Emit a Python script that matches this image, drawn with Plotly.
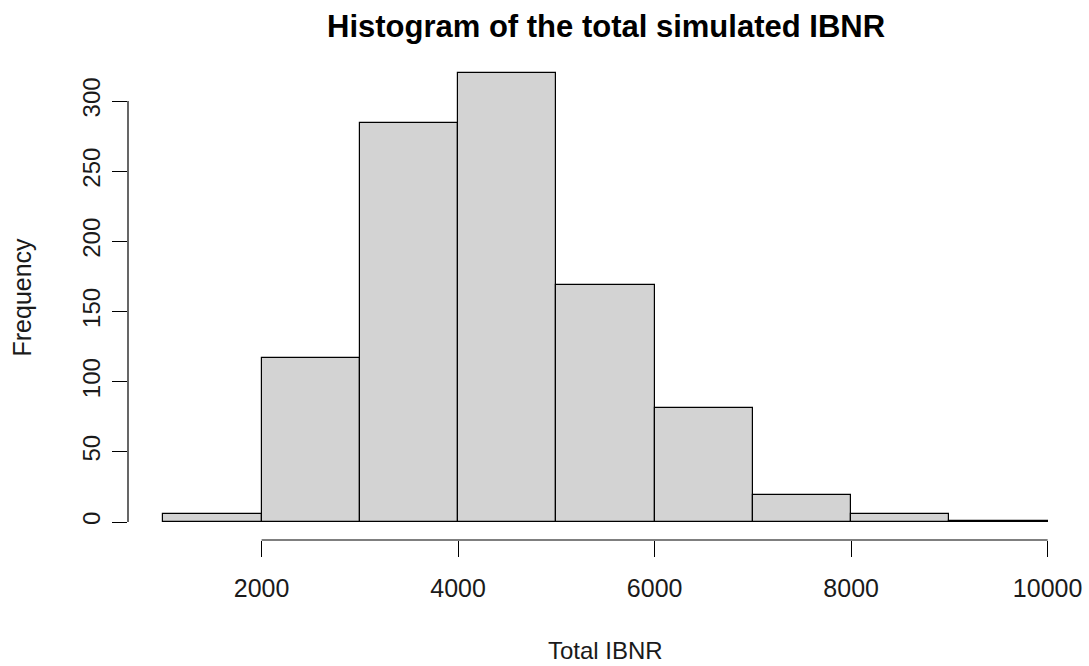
import plotly.graph_objects as go

# Histogram of total simulated IBNR: bin edges and counts
bin_edges = [1000, 2000, 3000, 4000, 5000, 6000, 7000, 8000, 9000, 10000]
counts = [6, 117, 284, 320, 169, 81, 19, 6, 1]

x_ticks = [2000, 4000, 6000, 8000, 10000]
y_ticks = [0, 50, 100, 150, 200, 250, 300]

title_text = "Histogram of the total simulated IBNR"
x_label = "Total IBNR"
y_label = "Frequency"

mids = [(a + b) / 2 for a, b in zip(bin_edges[:-1], bin_edges[1:])]
widths = [b - a for a, b in zip(bin_edges[:-1], bin_edges[1:])]

# R-style 4% padding around the data range
x_span = bin_edges[-1] - bin_edges[0]
x_range = [bin_edges[0] - 0.04 * x_span, bin_edges[-1] + 0.04 * x_span]
y_top = max(counts)
y_range = [-0.04 * y_top, y_top * 1.04]

FONT = "Liberation Sans, Arial, sans-serif"
TXT = "#1a1a1a"

fig = go.Figure(
    go.Bar(
        x=mids,
        y=counts,
        width=widths,
        marker=dict(color="#D3D3D3", line=dict(color="black", width=1.2)),
        hoverinfo="x+y",
    )
)

fig.update_layout(
    width=1089,
    height=666,
    margin=dict(l=128, r=6, t=55, b=126),
    plot_bgcolor="white",
    paper_bgcolor="white",
    showlegend=False,
    bargap=0,
    font=dict(family=FONT, size=24, color=TXT),
)

fig.update_xaxes(
    range=x_range,
    tickvals=x_ticks,
    ticktext=[str(v) for v in x_ticks],
    ticks="outside",
    ticklen=16,
    tickwidth=1.2,
    tickcolor="black",
    showgrid=False,
    zeroline=False,
    showline=False,
    ticklabelstandoff=10,
    tickfont=dict(size=25, color=TXT),
)
fig.update_yaxes(
    range=y_range,
    tickvals=y_ticks,
    ticktext=[str(v) for v in y_ticks],
    ticks="outside",
    ticklen=15,
    tickwidth=1.2,
    tickcolor="black",
    tickangle=-90,
    showgrid=False,
    zeroline=False,
    showline=False,
    ticklabelstandoff=2,
    tickfont=dict(size=24, color=TXT),
)

# Detached axis lines spanning only the tick range (base R style)
fig.add_shape(type="line", xref="x", yref="paper",
              x0=min(x_ticks), x1=max(x_ticks), y0=0, y1=0,
              line=dict(color="black", width=1.2))
fig.add_shape(type="line", xref="paper", yref="y",
              x0=0, x1=0, y0=min(y_ticks), y1=max(y_ticks),
              line=dict(color="black", width=1.2))

# Title and axis labels
fig.add_annotation(text=f"<b>{title_text}</b>", xref="paper", yref="paper",
                   x=0.5, y=1, yanchor="middle", yshift=29, showarrow=False,
                   font=dict(size=31, color="black", family=FONT))
fig.add_annotation(text=x_label, xref="paper", yref="paper",
                   x=0.5, y=0, yanchor="middle", yshift=-110, showarrow=False,
                   font=dict(size=24, color=TXT, family=FONT))
fig.add_annotation(text=y_label, xref="paper", yref="paper",
                   x=0, y=0.5, xanchor="center", yanchor="middle", xshift=-107,
                   textangle=-90, showarrow=False,
                   font=dict(size=25, color=TXT, family=FONT))

fig.write_html("out.html")
